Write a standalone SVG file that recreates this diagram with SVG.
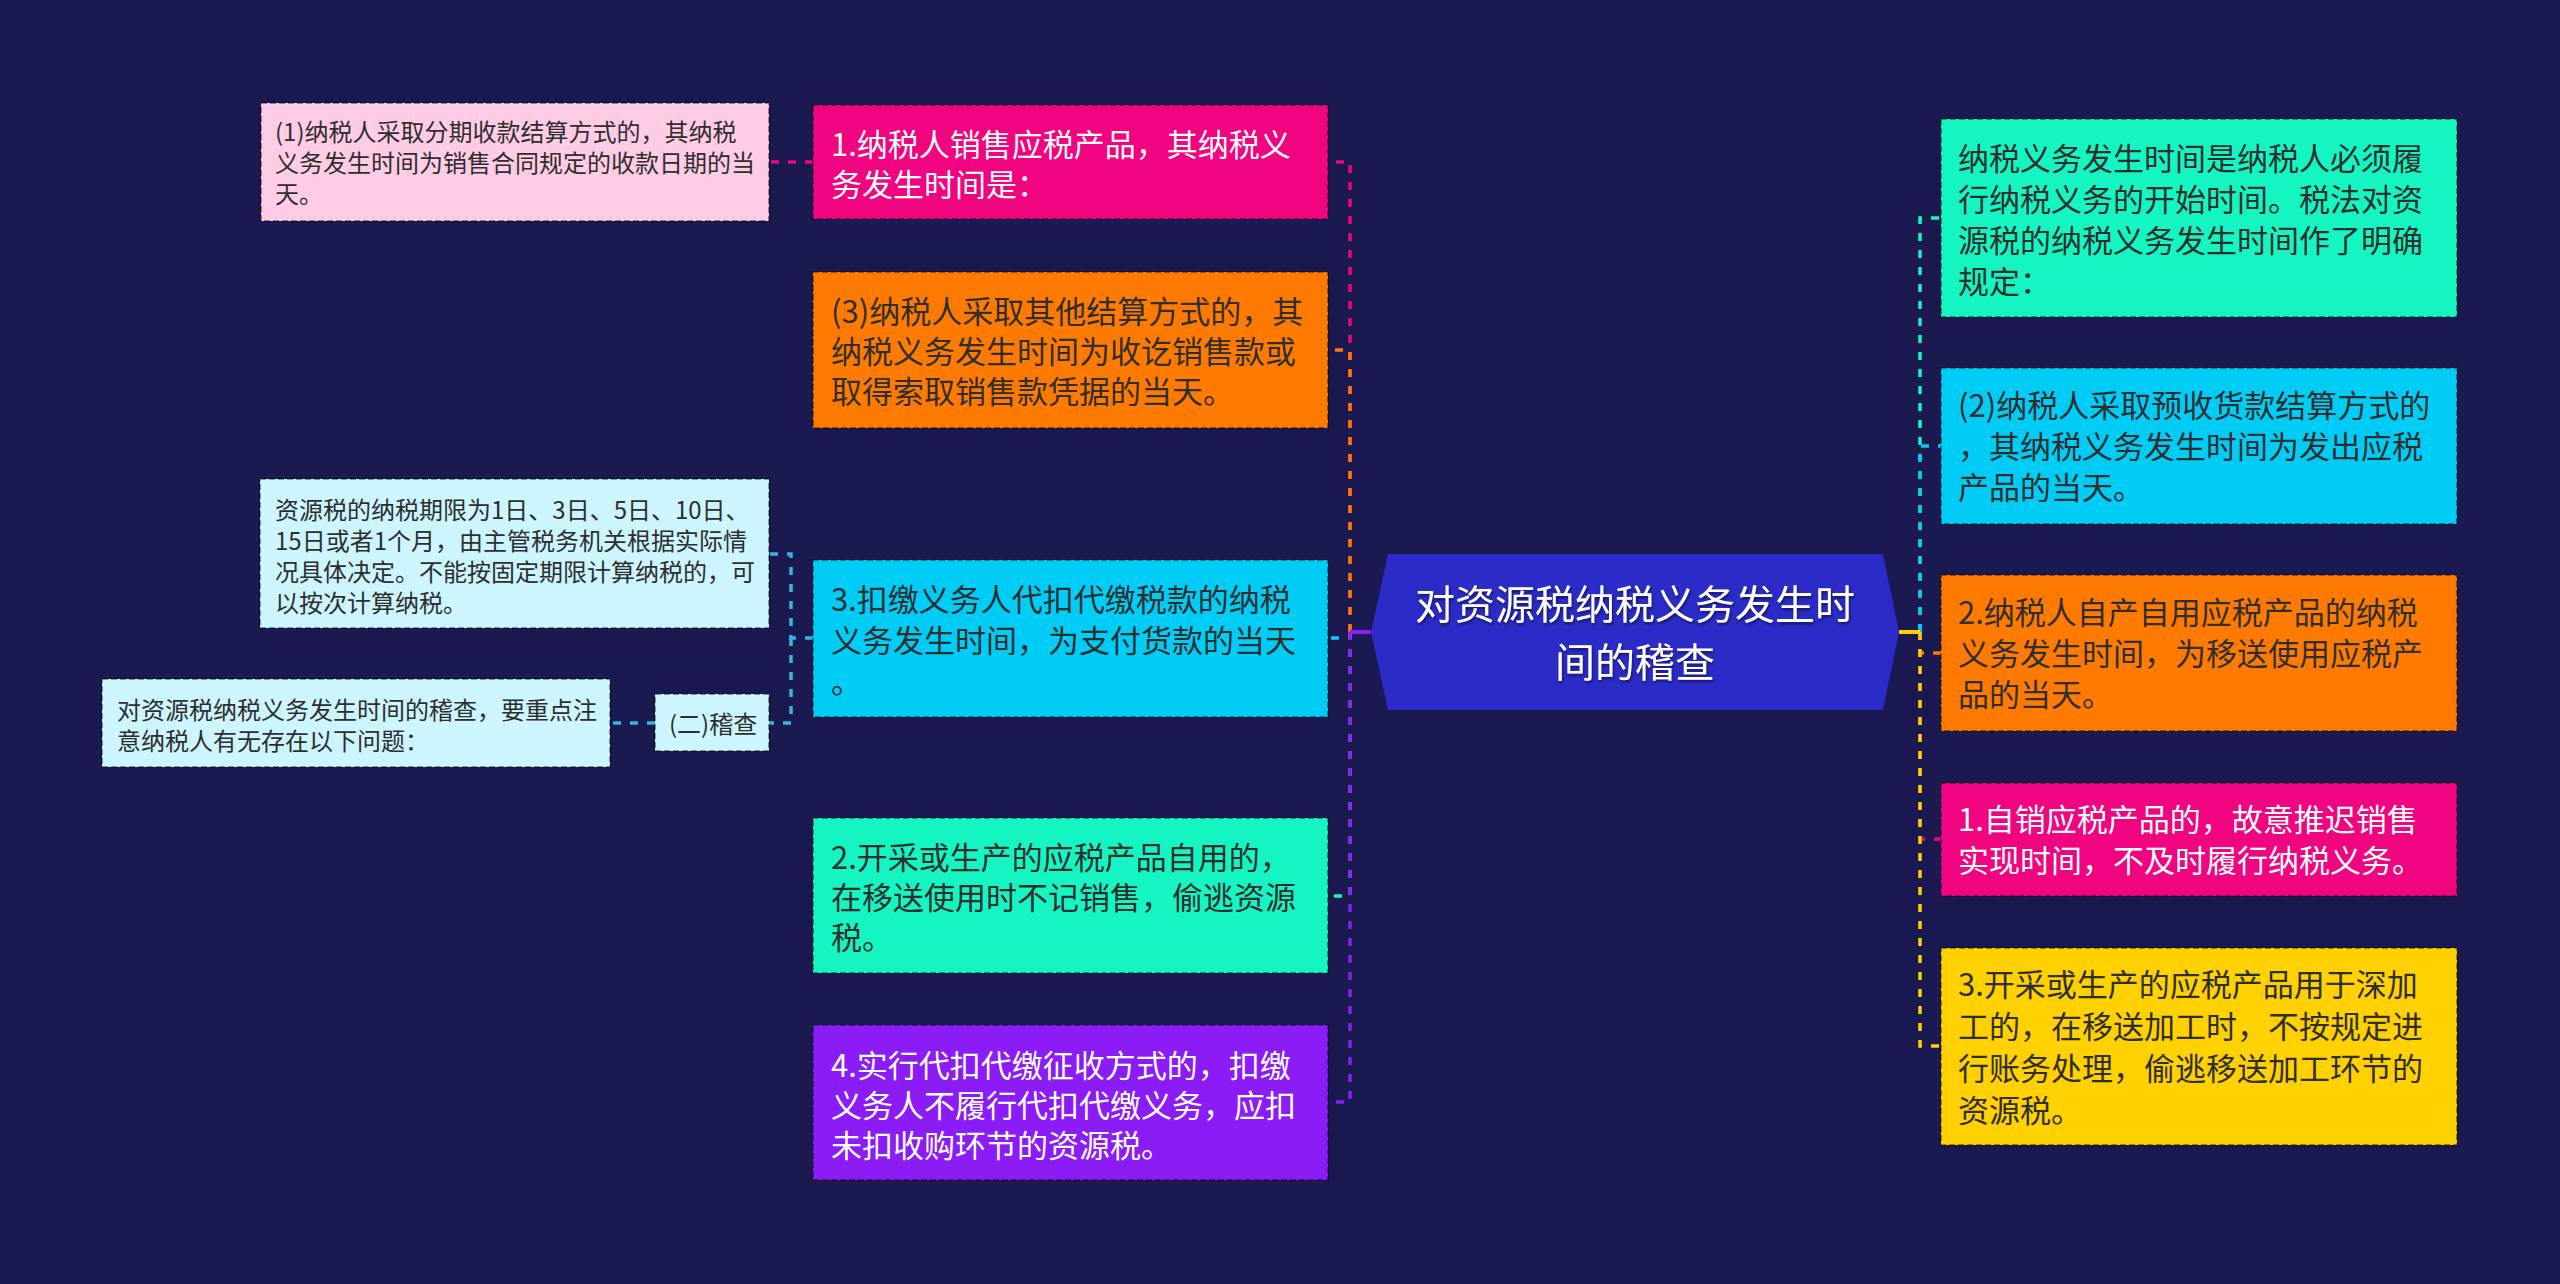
<svg xmlns="http://www.w3.org/2000/svg" width="2560" height="1284" viewBox="0 0 2560 1284">
<defs>
<style>
.t{font-family:"Noto Sans CJK SC","Noto Sans",sans-serif;}
.b31{font-size:31px;}
.b24{font-size:24px;}
.dk{fill:#2e2e2e;}
.wt{fill:#ffffff;}
.box{stroke:rgba(0,0,0,0.38);stroke-width:2;stroke-dasharray:6 3;}
.c{fill:none;stroke-width:3.5;stroke-dasharray:8 9;}
.s{fill:none;stroke-width:4;}
</style>
<filter id="sh" x="-5%" y="-20%" width="110%" height="140%">
<feDropShadow dx="1" dy="2" stdDeviation="1.5" flood-color="#000" flood-opacity="0.55"/>
</filter>
</defs>
<rect x="0" y="0" width="2560" height="1284" fill="#1b1a50"/>

<g id="connectors">
<path class="c" stroke="#f0047f" d="M1350,632 V162 H1328"/>
<path class="c" stroke="#ff7a00" d="M1350,632 V350 H1328"/>
<path class="c" stroke="#00ccf5" d="M1350,632 V638 H1328"/>
<path class="c" stroke="#14f5c1" d="M1350,632 V896 H1328"/>
<path class="c" stroke="#8b1cf5" d="M1350,632 V1102 H1328"/>
<path class="s" stroke="#8b1cf5" d="M1371,632 H1350"/>
<path class="c" stroke="#14f5c1" d="M1920,632 V218 H1941"/>
<path class="c" stroke="#00ccf5" d="M1920,632 V446 H1941"/>
<path class="c" stroke="#ff7a00" d="M1920,632 V653 H1941"/>
<path class="c" stroke="#f0047f" d="M1920,632 V839 H1941"/>
<path class="c" stroke="#ffd100" d="M1920,632 V1046 H1941"/>
<path class="s" stroke="#ffd100" d="M1899,632 H1920"/>
<path class="c" stroke="#f0047f" d="M813,162 H769"/>
<path class="c" stroke="#33b5e5" d="M813,638 H791 V554 H769"/>
<path class="c" stroke="#33b5e5" d="M791,638 V723 H769"/>
<path class="c" stroke="#33b5e5" d="M655,723 H610"/>
</g>

<g id="root">
<polygon points="1371,632 1388,554 1883,554 1899,632 1883,710 1388,710" fill="#2b2bc8"/>
<text class="t wt" font-size="40" text-anchor="middle" filter="url(#sh)" x="1635" y="619">对资源税纳税义务发生时</text>
<text class="t wt" font-size="40" text-anchor="middle" filter="url(#sh)" x="1635" y="677">间的稽查</text>
</g>

<g id="l1">
<rect class="box" x="813" y="105" width="515" height="114" fill="#f0047f"/>
<text class="t b31 wt"><tspan x="831" y="156">1.纳税人销售应税产品，其纳税义</tspan><tspan x="831" y="196">务发生时间是：</tspan></text>
</g>
<g id="l2">
<rect class="box" x="813" y="272" width="515" height="156" fill="#ff7a00"/>
<text class="t b31 dk"><tspan x="831" y="323">(3)纳税人采取其他结算方式的，其</tspan><tspan x="831" y="363">纳税义务发生时间为收讫销售款或</tspan><tspan x="831" y="403">取得索取销售款凭据的当天。</tspan></text>
</g>
<g id="l3">
<rect class="box" x="813" y="560" width="515" height="157" fill="#00ccf5"/>
<text class="t b31 dk"><tspan x="831" y="611">3.扣缴义务人代扣代缴税款的纳税</tspan><tspan x="831" y="652">义务发生时间，为支付货款的当天</tspan><tspan x="831" y="693">。</tspan></text>
</g>
<g id="l4">
<rect class="box" x="813" y="818" width="515" height="155" fill="#14f5c1"/>
<text class="t b31 dk"><tspan x="831" y="869">2.开采或生产的应税产品自用的，</tspan><tspan x="831" y="909">在移送使用时不记销售，偷逃资源</tspan><tspan x="831" y="949">税。</tspan></text>
</g>
<g id="l5">
<rect class="box" x="813" y="1025" width="515" height="155" fill="#8b1cf5"/>
<text class="t b31 wt"><tspan x="831" y="1077">4.实行代扣代缴征收方式的，扣缴</tspan><tspan x="831" y="1117">义务人不履行代扣代缴义务，应扣</tspan><tspan x="831" y="1157">未扣收购环节的资源税。</tspan></text>
</g>

<g id="l1a">
<rect class="box" x="261" y="103" width="508" height="118" fill="#ffcce5"/>
<text class="t b24 dk"><tspan x="275" y="141">(1)纳税人采取分期收款结算方式的，其纳税</tspan><tspan x="275" y="172">义务发生时间为销售合同规定的收款日期的当</tspan><tspan x="275" y="203">天。</tspan></text>
</g>
<g id="l3a">
<rect class="box" x="260" y="479" width="509" height="149" fill="#ccf5fd"/>
<text class="t b24 dk"><tspan x="275" y="519">资源税的纳税期限为1日、3日、5日、10日、</tspan><tspan x="275" y="550">15日或者1个月，由主管税务机关根据实际情</tspan><tspan x="275" y="581">况具体决定。不能按固定期限计算纳税的，可</tspan><tspan x="275" y="612">以按次计算纳税。</tspan></text>
</g>
<g id="l3b">
<rect class="box" x="655" y="694" width="114" height="57" fill="#ccf5fd"/>
<text class="t b24 dk" x="669" y="733">(二)稽查</text>
</g>
<g id="l3b1">
<rect class="box" x="102" y="679" width="508" height="88" fill="#ccf5fd"/>
<text class="t b24 dk"><tspan x="117" y="719">对资源税纳税义务发生时间的稽查，要重点注</tspan><tspan x="117" y="750">意纳税人有无存在以下问题：</tspan></text>
</g>

<g id="r1">
<rect class="box" x="1941" y="119" width="516" height="198" fill="#14f5c1"/>
<text class="t b31 dk"><tspan x="1958" y="170">纳税义务发生时间是纳税人必须履</tspan><tspan x="1958" y="211">行纳税义务的开始时间。税法对资</tspan><tspan x="1958" y="252">源税的纳税义务发生时间作了明确</tspan><tspan x="1958" y="293">规定：</tspan></text>
</g>
<g id="r2">
<rect class="box" x="1941" y="368" width="516" height="156" fill="#00ccf5"/>
<text class="t b31 dk"><tspan x="1958" y="417">(2)纳税人采取预收货款结算方式的</tspan><tspan x="1958" y="458">，其纳税义务发生时间为发出应税</tspan><tspan x="1958" y="499">产品的当天。</tspan></text>
</g>
<g id="r3">
<rect class="box" x="1941" y="575" width="516" height="156" fill="#ff7a00"/>
<text class="t b31 dk"><tspan x="1958" y="624">2.纳税人自产自用应税产品的纳税</tspan><tspan x="1958" y="665">义务发生时间，为移送使用应税产</tspan><tspan x="1958" y="706">品的当天。</tspan></text>
</g>
<g id="r4">
<rect class="box" x="1941" y="783" width="516" height="113" fill="#f0047f"/>
<text class="t b31 wt"><tspan x="1958" y="831">1.自销应税产品的，故意推迟销售</tspan><tspan x="1958" y="872">实现时间，不及时履行纳税义务。</tspan></text>
</g>
<g id="r5">
<rect class="box" x="1941" y="948" width="516" height="197" fill="#ffd100"/>
<text class="t b31 dk"><tspan x="1958" y="996">3.开采或生产的应税产品用于深加</tspan><tspan x="1958" y="1038">工的，在移送加工时，不按规定进</tspan><tspan x="1958" y="1080">行账务处理，偷逃移送加工环节的</tspan><tspan x="1958" y="1122">资源税。</tspan></text>
</g>
</svg>
